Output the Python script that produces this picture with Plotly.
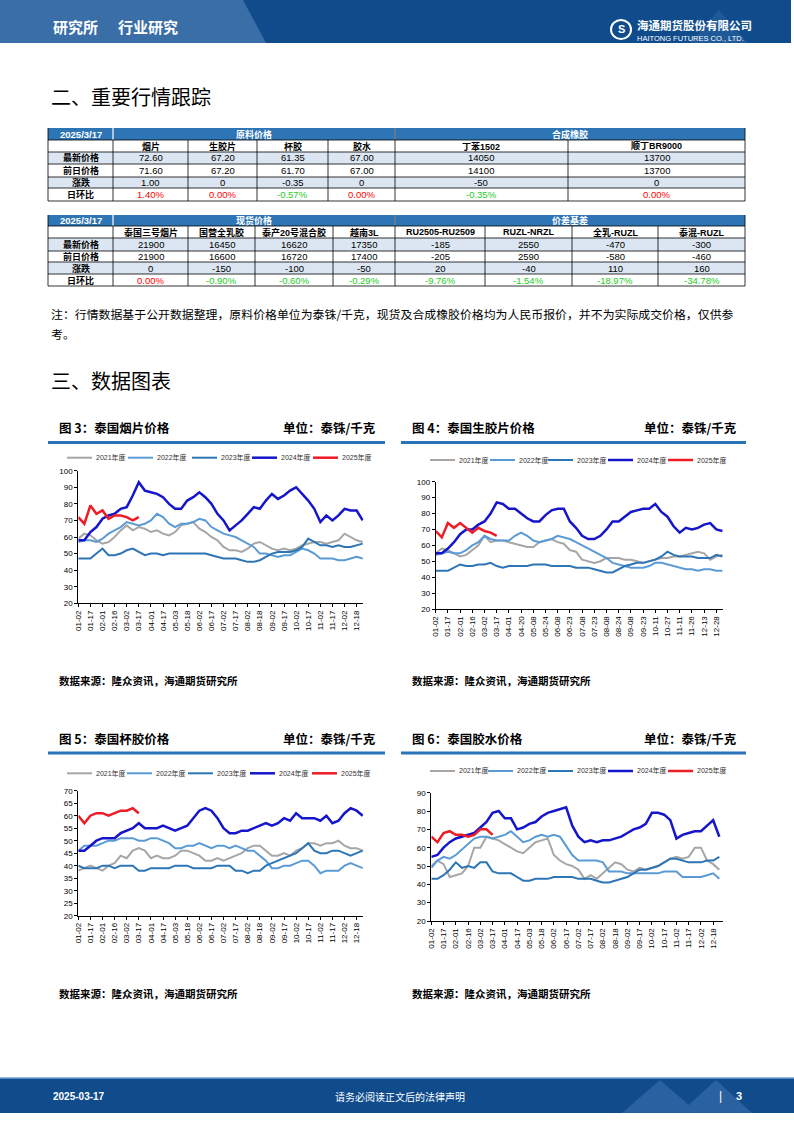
import plotly.graph_objects as go

W, H = 794, 1123
def X(x): return x / W
def Y(y): return 1 - y / H

CJK = "Noto Sans CJK SC"
NUM = "Liberation Sans, Noto Sans CJK SC"

# ---------------- table data ----------------
t_date = "2025/3/17"
row_labels = ["最新价格", "前日价格", "涨跌", "日环比"]

t1_groups = ["原料价格", "合成橡胶"]
t1_cols = ["烟片", "生胶片", "杯胶", "胶水", "丁苯1502", "顺丁BR9000"]
t1_latest = ["72.60", "67.20", "61.35", "67.00", "14050", "13700"]
t1_prev = ["71.60", "67.20", "61.70", "67.00", "14100", "13700"]
t1_chg = ["1.00", "0", "-0.35", "0", "-50", "0"]
t1_pct = ["1.40%", "0.00%", "-0.57%", "0.00%", "-0.35%", "0.00%"]

t2_groups = ["现货价格", "价差基差"]
t2_cols = ["泰国三号烟片", "国营全乳胶", "泰产20号混合胶", "越南3L",
           "RU2505-RU2509", "RUZL-NRZL", "全乳-RUZL", "泰混-RUZL"]
t2_latest = ["21900", "16450", "16620", "17350", "-185", "2550", "-470", "-300"]
t2_prev = ["21900", "16600", "16720", "17400", "-205", "2590", "-580", "-460"]
t2_chg = ["0", "-150", "-100", "-50", "20", "-40", "110", "160"]
t2_pct = ["0.00%", "-0.90%", "-0.60%", "-0.29%", "-9.76%", "-1.54%", "-18.97%", "-34.78%"]

# ---------------- chart data ----------------
years = ["2021年度", "2022年度", "2023年度", "2024年度", "2025年度"]

dates_a = ["01-02", "01-09", "01-17", "01-24", "02-01", "02-08", "02-16", "02-23",
           "03-02", "03-09", "03-17", "03-24", "04-01", "04-09", "04-17", "04-25",
           "05-03", "05-10", "05-18", "05-25", "06-02", "06-09", "06-17", "06-24",
           "07-02", "07-09", "07-17", "07-24", "08-02", "08-10", "08-18", "08-25",
           "09-02", "09-09", "09-17", "09-24", "10-02", "10-09", "10-17", "10-24",
           "11-02", "11-09", "11-17", "11-24", "12-02", "12-10", "12-18", "12-26"]
ticks_a = ["01-02", "01-17", "02-01", "02-16", "03-02", "03-17", "04-01", "04-17",
           "05-03", "05-18", "06-02", "06-17", "07-02", "07-17", "08-02", "08-18",
           "09-02", "09-17", "10-02", "10-17", "11-02", "11-17", "12-02", "12-18"]

dates_b = ["01-02", "01-09", "01-17", "01-24", "02-01", "02-08", "02-16", "02-23",
           "03-02", "03-09", "03-17", "03-24", "04-01", "04-10", "04-20", "04-29",
           "05-08", "05-16", "05-24", "05-31", "06-08", "06-15", "06-23", "06-30",
           "07-08", "07-15", "07-23", "07-31", "08-08", "08-16", "08-24", "08-31",
           "09-08", "09-15", "09-23", "10-02", "10-11", "10-19", "10-27", "11-03",
           "11-11", "11-18", "11-26", "12-04", "12-13", "12-20", "12-28", "12-31"]
ticks_b = ["01-02", "01-17", "02-01", "02-16", "03-02", "03-17", "04-01", "04-20",
           "05-08", "05-24", "06-08", "06-23", "07-08", "07-23", "08-08", "08-24",
           "09-08", "09-23", "10-11", "10-27", "11-11", "11-26", "12-13", "12-28"]

# 图3 泰国烟片
yp_2021 = [59, 62, 61, 58, 56, 57, 60, 64, 67, 64, 66, 65, 63, 64, 62, 61, 63, 67, 68, 69,
           65, 63, 60, 58, 54, 52, 52, 51, 53, 56, 57, 55, 53, 52, 53, 52, 53, 55, 56, 57,
           57, 56, 57, 58, 62, 60, 58, 57]
yp_2022 = [57, 58, 58, 57, 59, 62, 64, 66, 69, 68, 67, 68, 70, 74, 72, 68, 66, 68, 68, 69,
           71, 70, 66, 64, 62, 61, 60, 58, 56, 54, 50, 50, 49, 48, 49, 49, 51, 53, 52, 50,
           47, 47, 47, 46, 46, 47, 48, 47]
yp_2023 = [47, 47, 47, 50, 53, 49, 49, 50, 52, 53, 51, 49, 50, 50, 49, 50, 50, 50, 50, 50,
           50, 50, 49, 48, 47, 47, 47, 46, 45, 45, 46, 48, 50, 51, 51, 51, 52, 54, 59, 57,
           55, 55, 54, 55, 54, 54, 55, 56]
yp_2024 = [58, 58, 63, 66, 71, 73, 74, 77, 78, 85, 93, 88, 87, 86, 84, 80, 77, 77, 82, 84,
           87, 84, 80, 74, 70, 64, 67, 70, 74, 78, 77, 82, 86, 83, 85, 88, 90, 86, 82, 77,
           69, 73, 70, 73, 77, 76, 76, 70]
yp_2025 = [72, 68, 79, 74, 76, 71, 73, 73, 72, 70, 72]

# 图4 泰国生胶片
sj_2021 = [55, 58, 57, 55, 53, 54, 57, 60, 66, 62, 63, 63, 62, 61, 60, 59, 59, 62, 63, 64,
           62, 61, 57, 56, 51, 50, 49, 50, 52, 52, 52, 51, 51, 50, 49, 50, 51, 52, 52, 53,
           53, 54, 55, 56, 55, 51, 53, 54]
sj_2022 = [54, 55, 56, 55, 55, 57, 60, 62, 66, 64, 63, 63, 63, 66, 68, 66, 63, 62, 63, 64,
           66, 65, 64, 62, 60, 58, 56, 54, 52, 49, 48, 47, 46, 46, 46, 47, 49, 49, 48, 47,
           46, 45, 45, 44, 45, 45, 44, 44]
sj_2023 = [44, 44, 44, 46, 48, 47, 47, 48, 48, 49, 47, 46, 47, 47, 47, 47, 48, 48, 48, 47,
           47, 47, 47, 46, 46, 46, 45, 44, 43, 43, 45, 47, 48, 49, 49, 50, 51, 53, 56, 54,
           53, 53, 53, 52, 52, 52, 54, 53]
sj_2024 = [55, 55, 58, 62, 67, 70, 70, 73, 75, 80, 87, 86, 83, 83, 80, 77, 75, 75, 79, 82,
           83, 83, 75, 71, 66, 64, 64, 66, 70, 75, 75, 78, 81, 82, 83, 83, 86, 81, 78, 72,
           68, 71, 70, 71, 73, 74, 70, 69]
sj_2025 = [69, 65, 74, 71, 74, 71, 68, 71, 69, 68, 66]

# 图5 泰国杯胶
bj_2021 = [38, 39, 40, 39, 38, 40, 41, 44, 43, 46, 47, 46, 43, 44, 43, 43, 44, 46, 46, 45,
           44, 42, 42, 43, 42, 43, 44, 45, 47, 48, 48, 46, 44, 44, 45, 44, 46, 47, 49, 49,
           48, 49, 49, 50, 48, 47, 47, 46]
bj_2022 = [46, 48, 48, 48, 49, 50, 50, 51, 51, 51, 50, 50, 51, 51, 50, 49, 47, 47, 48, 48,
           49, 48, 47, 48, 48, 47, 48, 47, 46, 46, 44, 42, 39, 39, 40, 40, 41, 42, 42, 40,
           37, 38, 38, 38, 40, 41, 40, 39]
bj_2023 = [40, 39, 39, 39, 40, 40, 39, 40, 40, 40, 38, 38, 39, 39, 39, 39, 40, 40, 40, 39,
           39, 39, 39, 40, 40, 40, 38, 38, 37, 38, 38, 40, 41, 42, 43, 44, 45, 47, 49, 46,
           45, 45, 46, 46, 45, 44, 45, 46]
bj_2024 = [46, 46, 48, 50, 51, 51, 51, 53, 54, 55, 57, 55, 55, 55, 56, 55, 54, 55, 56, 59,
           62, 63, 62, 59, 55, 53, 53, 54, 54, 55, 56, 57, 56, 57, 59, 58, 61, 59, 59, 59,
           58, 60, 57, 58, 61, 63, 62, 60]
bj_2025 = [60, 57, 60, 61, 61, 60, 61, 62, 62, 63, 61]

# 图6 泰国胶水
js_2021 = [50, 53, 51, 44, 45, 46, 50, 60, 60, 66, 65, 64, 62, 60, 58, 57, 60, 63, 64, 65,
           56, 53, 51, 50, 48, 43, 45, 43, 46, 49, 52, 51, 48, 47, 49, 48, 49, 50, 52, 54,
           55, 54, 55, 60, 60, 53, 51, 48]
js_2022 = [49, 53, 55, 54, 56, 59, 62, 65, 66, 66, 65, 66, 67, 69, 66, 63, 64, 66, 67, 66,
           67, 66, 61, 56, 53, 53, 53, 53, 52, 47, 47, 47, 46, 46, 46, 46, 46, 46, 47, 47,
           47, 44, 44, 44, 44, 45, 46, 43]
js_2023 = [43, 43, 45, 48, 52, 49, 50, 49, 52, 52, 47, 46, 46, 46, 44, 42, 42, 43, 43, 43,
           44, 44, 44, 44, 43, 43, 43, 42, 41, 41, 42, 43, 44, 46, 48, 48, 49, 50, 52, 54,
           54, 53, 52, 52, 52, 53, 53, 55]
js_2024 = [55, 56, 60, 63, 65, 66, 67, 68, 71, 74, 79, 80, 76, 76, 70, 71, 73, 74, 77, 79,
           80, 81, 82, 72, 66, 63, 64, 63, 64, 64, 65, 66, 68, 70, 71, 73, 79, 79, 78, 75,
           65, 67, 68, 69, 69, 72, 75, 66]
js_2025 = [66, 63, 68, 69, 67, 67, 66, 67, 70, 70, 67]

# ---------------- styles ----------------
SERIES_COLORS = ["#a6a6a6", "#5b9bd5", "#2e75b6", "#1515cc", "#ee1c25"]
SERIES_WIDTHS = [2, 2, 2, 2.5, 2.5]
HDR_BLUE = "#2e75b6"
ROW_LIGHT = "#dce6f2"
RED = "#ff0000"
GREEN = "#22cc22"
RULE_BLUE = "#2a73b8"

shapes = []
annots = []

def rect(x0, y0, x1, y1, fill, lw=0, lc=None):
    shapes.append(dict(type="rect", xref="paper", yref="paper", x0=X(x0), x1=X(x1),
                       y0=Y(y1), y1=Y(y0), fillcolor=fill,
                       line=dict(width=lw, color=lc or fill), layer="below"))

def seg(x0, y0, x1, y1, color, w):
    shapes.append(dict(type="line", xref="paper", yref="paper", x0=X(x0), y0=Y(y0),
                       x1=X(x1), y1=Y(y1), line=dict(color=color, width=w)))

def poly(pts, fill):
    p = "M " + " L ".join(f"{X(a):.5f},{Y(b):.5f}" for a, b in pts) + " Z"
    shapes.append(dict(type="path", xref="paper", yref="paper", path=p,
                       fillcolor=fill, line=dict(width=0), layer="below"))

def text(x, y, s, size, color="black", family=CJK, xanchor="center", bold=False):
    annots.append(dict(x=X(x), y=Y(y), xref="paper", yref="paper", text=s,
                       showarrow=False, xanchor=xanchor, yanchor="middle", borderpad=0,
                       font=dict(size=size, color=color, family=family,
                                 weight="bold" if bold else "normal")))

# ---------------- header / footer ----------------
rect(0, 0, 791, 43, "#104c8c")
poly([(0, 0), (243, 0), (266, 43), (0, 43)], "#3a6ea6")
poly([(690, 43), (719, 10), (748, 43)], "#1f5a98")
text(52, 27, "研究所", 15, "white", CJK, "left", True)
text(117, 27, "行业研究", 15, "white", CJK, "left", True)
shapes.append(dict(type="circle", xref="paper", yref="paper", x0=X(611), x1=X(631),
                   y0=Y(39), y1=Y(20), line=dict(color="white", width=2)))
text(621, 29.5, "S", 11, "white", NUM, "center", True)
text(636, 25, "海通期货股份有限公司", 11.5, "white", CJK, "left", True)
text(636, 38, "HAITONG FUTURES CO., LTD.", 7.5, "white", NUM, "left")

rect(0, 1078, 794, 1113, "#104c8c")
seg(0, 1078, 794, 1078, "#6f9fd3", 1.5)
poly([(622, 1113), (660, 1080), (698, 1113)], "#2a61a0")
poly([(680, 1113), (716, 1080), (752, 1113)], "#2a61a0")
text(52, 1096, "2025-03-17", 10, "white", NUM, "left", True)
text(400, 1096, "请务必阅读正文后的法律声明", 10, "white", CJK, "center")
text(720, 1096, "|", 12, "white", NUM, "center")
text(739, 1096, "3", 11, "white", NUM, "center", True)

# ---------------- section headings / note ----------------
text(50, 97, "二、重要行情跟踪", 20, "black", CJK, "left")
text(50, 381, "三、数据图表", 20, "black", CJK, "left")
text(50, 313, "注：行情数据基于公开数据整理，原料价格单位为泰铢/千克，现货及合成橡胶价格均为人民币报价，并不为实际成交价格，仅供参",
     11.9, "black", CJK, "left")
text(50, 333, "考。", 11.9, "black", CJK, "left")

# ---------------- tables ----------------
def draw_table(xe, ye, groups, spans, cols, rows):
    mid0 = (ye[0] + ye[1]) / 2
    rect(xe[0], ye[0], xe[-1], ye[1], HDR_BLUE)
    text((xe[0] + xe[1]) / 2, mid0, t_date, 9.5, "white", NUM, "center", True)
    for g, (a, b) in zip(groups, spans):
        text((xe[a] + xe[b]) / 2, mid0, g, 9, "white", CJK, "center", True)
    fills = ["white", ROW_LIGHT, "white", ROW_LIGHT, "white"]
    for r in range(5):
        rect(xe[0], ye[r + 1], xe[-1], ye[r + 2], fills[r])
    for (a, b) in spans:
        seg(xe[a], ye[0], xe[a], ye[1], "white", 1.2)
    for y in ye[1:]:
        seg(xe[0], y, xe[-1], y, "black", 0.8)
    for x in xe:
        seg(x, ye[1], x, ye[-1], "black", 0.8)
    seg(xe[0], ye[0], xe[0], ye[1], "black", 0.8)
    seg(xe[-1], ye[0], xe[-1], ye[1], "black", 0.8)
    seg(xe[spans[1][0]], ye[0], xe[spans[1][0]], ye[1], "black", 0.8)
    m = (ye[1] + ye[2]) / 2
    for j, c in enumerate(cols):
        text((xe[j + 1] + xe[j + 2]) / 2, m, c, 9, "black", NUM, "center", True)
    for r, (lab, vals) in enumerate(zip(row_labels, rows)):
        m = (ye[r + 2] + ye[r + 3]) / 2
        text((xe[0] + xe[1]) / 2, m, lab, 9, "black", CJK, "center", True)
        for j, v in enumerate(vals):
            col = "black"
            if r == 3:
                col = GREEN if v.startswith("-") else RED
            text((xe[j + 1] + xe[j + 2]) / 2, m, v, 9.5, col, NUM, "center")

draw_table([48, 113, 188, 257, 328, 395, 568, 745], [128, 140, 152, 164, 177, 188, 201],
           t1_groups, [(1, 5), (5, 7)], t1_cols, [t1_latest, t1_prev, t1_chg, t1_pct])
draw_table([48, 113, 188, 255, 333, 395, 485, 572, 658, 745], [215, 226, 238, 251, 262, 274, 286],
           t2_groups, [(1, 5), (5, 9)], t2_cols, [t2_latest, t2_prev, t2_chg, t2_pct])

# ---------------- charts ----------------
charts = [
    dict(title="图 3：泰国烟片价格", series=[yp_2021, yp_2022, yp_2023, yp_2024, yp_2025],
         dates=dates_a, ticks=ticks_a, yr=[20, 100], dtick=10,
         px0=78.3, px1=363.3, py0=470.7, py1=603.3, rend=47.1,
         leg_x=[67, 128, 192, 252, 313], leg_y=457.7,
         box=(48, 385), ty=427, rule=442.5, src=680),
    dict(title="图 4：泰国生胶片价格", series=[sj_2021, sj_2022, sj_2023, sj_2024, sj_2025],
         dates=dates_b, ticks=ticks_b, yr=[20, 100], dtick=10,
         px0=435.7, px1=723, py0=481.7, py1=609, rend=47.1,
         leg_x=[430, 490, 548, 608, 668], leg_y=460,
         box=(401, 746), ty=427, rule=442.5, src=680),
    dict(title="图 5：泰国杯胶价格", series=[bj_2021, bj_2022, bj_2023, bj_2024, bj_2025],
         dates=dates_a, ticks=ticks_a, yr=[20, 70], dtick=5,
         px0=78.3, px1=363.3, py0=790.7, py1=915.7, rend=47.1,
         leg_x=[67, 127, 188, 250, 312], leg_y=773.3,
         box=(48, 385), ty=738, rule=753, src=993),
    dict(title="图 6：泰国胶水价格", series=[js_2021, js_2022, js_2023, js_2024, js_2025],
         dates=dates_a, ticks=ticks_a, yr=[20, 90], dtick=10,
         px0=431.3, px1=723, py0=792.7, py1=921, rend=47.6,
         leg_x=[430, 488, 548, 608, 668], leg_y=771,
         box=(401, 746), ty=738, rule=753, src=993),
]

fig = go.Figure()
layout_extra = {}
for k, ch in enumerate(charts, start=1):
    sfx = "" if k == 1 else str(k)
    for name, vals, colr, w in zip(years, ch["series"], SERIES_COLORS, SERIES_WIDTHS):
        fig.add_trace(go.Scatter(
            x=ch["dates"][:len(vals)], y=vals, mode="lines", name=name,
            line=dict(color=colr, width=w), xaxis="x" + sfx, yaxis="y" + sfx,
            showlegend=False, hoverinfo="skip"))
    layout_extra["xaxis" + sfx] = dict(
        domain=[X(ch["px0"]), X(ch["px1"])], anchor="y" + sfx, type="category",
        categoryorder="array", categoryarray=ch["dates"], tickmode="array",
        tickvals=ch["ticks"], ticktext=ch["ticks"], tickangle=-90,
        range=[0, ch["rend"]], showline=True, linecolor="black", linewidth=1,
        ticks="outside", ticklen=3, tickcolor="black", showgrid=False, zeroline=False,
        tickfont=dict(size=8, family=NUM, color="black"), fixedrange=True, automargin=False)
    layout_extra["yaxis" + sfx] = dict(
        domain=[Y(ch["py1"]), Y(ch["py0"])], anchor="x" + sfx, range=ch["yr"],
        dtick=ch["dtick"], tick0=0, showline=True, linecolor="black", linewidth=1,
        ticks="outside", ticklen=3, tickcolor="black", showgrid=False, zeroline=False,
        tickfont=dict(size=8, family=NUM, color="black"), fixedrange=True, automargin=False)
    # legend (drawn as line samples + labels)
    for name, lx, colr, w in zip(years, ch["leg_x"], SERIES_COLORS, SERIES_WIDTHS):
        seg(lx, ch["leg_y"], lx + 25, ch["leg_y"], colr, w)
        text(lx + 28, ch["leg_y"], name, 7, "#333333", NUM, "left")
    bx0, bx1 = ch["box"]
    text(bx0 + 10, ch["ty"], ch["title"], 12.5, "black", CJK, "left", True)
    text(bx1 - 8, ch["ty"], "单位：泰铢/千克", 12.5, "black", CJK, "right", True)
    seg(bx0, ch["rule"], bx1, ch["rule"], RULE_BLUE, 3)
    text(bx0 + 10, ch["src"], "数据来源：隆众资讯，海通期货研究所", 10.5, "black", CJK, "left", True)

fig.update_layout(
    width=W, height=H, margin=dict(l=0, r=0, t=0, b=0, autoexpand=False), autosize=False,
    paper_bgcolor="white", plot_bgcolor="white", showlegend=False,
    shapes=shapes, annotations=annots, **layout_extra)

fig.write_html("out.html", include_plotlyjs=True, config={"displayModeBar": False, "responsive": False})
